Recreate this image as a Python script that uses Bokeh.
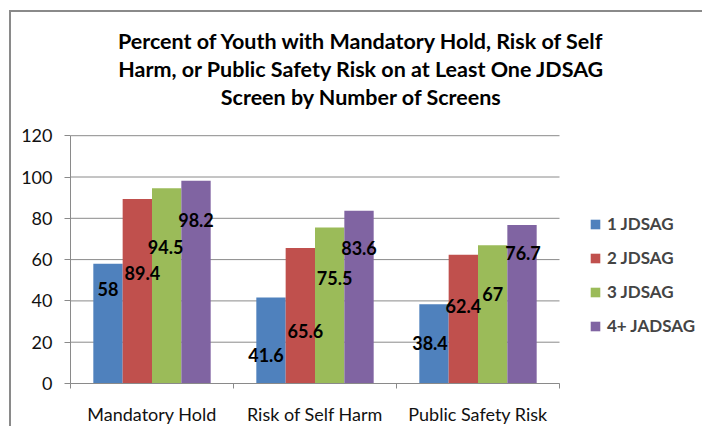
from bokeh.plotting import figure
from bokeh.models import (Range1d, FixedTicker, Legend, LegendItem, Label,
                          ColumnDataSource)
from bokeh.core.properties import value
from bokeh.embed import file_html
from bokeh.resources import INLINE

# ---- data ----
categories = ["Mandatory Hold", "Risk of Self Harm", "Public Safety Risk"]
series_names = ["1 JDSAG", "2 JDSAG", "3 JDSAG", "4+ JADSAG"]
values_1 = [58, 41.6, 38.4]
values_2 = [89.4, 65.6, 62.4]
values_3 = [94.5, 75.5, 67]
values_4 = [98.2, 83.6, 76.7]
y_ticks = [0, 20, 40, 60, 80, 100, 120]
title_lines = [
    "Percent of Youth with Mandatory Hold, Risk of Self",
    "Harm, or Public Safety Risk on at Least One JDSAG",
    "Screen by Number of Screens",
]

# ---- styling ----
colors = ["#4F81BD", "#C0504D", "#9BBB59", "#8064A2"]
offsets = [-0.27, -0.09, 0.09, 0.27]
bar_width = 0.18
# value-label anchors (data y) and horizontal nudges (px), per series
label_y = [[45.7, 13.6, 19.4], [53.4, 25.3, 37.4], [66, 51, 43.2], [79, 65.6, 63]]
label_dx = [[0, -5, -4], [5, 5, 0], [-1, 5, 0], [0, 0, 1]]
FONT = "Lato"
GRAY = "#8a8a8a"

# The canvas sits inside a bordered box; the plot frame fills everything
# right of the value axis and above the category axis, so the title and
# legend live inside it.  Axis data extent: x 0..3, y 0..120.
CANVAS_W, CANVAS_H = 693, 416
AXIS_W, AXIS_H = 59, 45
PX_PER_CAT = 163.0
PX_PER_UNIT = 2.065
x_end = (CANVAS_W - AXIS_W) / PX_PER_CAT
y_end = (CANVAS_H - AXIS_H) / PX_PER_UNIT
n_cat = len(categories)

p = figure(width=CANVAS_W, height=CANVAS_H, output_backend="svg",
           toolbar_location=None,
           x_range=Range1d(0, x_end), y_range=Range1d(0, y_end),
           min_border_left=AXIS_W, min_border_right=0,
           min_border_top=0, min_border_bottom=AXIS_H)
p.outline_line_color = None
p.background_fill_color = "white"
p.border_fill_color = "white"
p.styles = {"margin-left": "9px", "margin-top": "10px",
            "border-left": f"2px solid {GRAY}", "border-top": f"2px solid {GRAY}"}

# value axis
p.yaxis.ticker = FixedTicker(ticks=y_ticks)
p.yaxis.bounds = (y_ticks[0], y_ticks[-1])
p.yaxis.major_tick_out = 6
p.yaxis.major_tick_in = 0
p.yaxis.minor_tick_line_color = None
p.yaxis.major_label_standoff = 12
p.yaxis.axis_line_color = GRAY
p.yaxis.major_tick_line_color = GRAY
p.yaxis.major_label_text_font = FONT
p.yaxis.major_label_text_font_size = "18px"
p.yaxis.major_label_text_color = "#111111"
p.xgrid.grid_line_color = None
p.ygrid.grid_line_color = None

# horizontal gridlines across the category extent
p.segment(x0=[0] * len(y_ticks), x1=[n_cat] * len(y_ticks),
          y0=y_ticks, y1=y_ticks, line_color=GRAY, line_width=1)

# category axis: names centred, tick marks on category boundaries
centers = [i + 0.5 for i in range(n_cat)]
p.xaxis.ticker = FixedTicker(ticks=centers, minor_ticks=list(range(n_cat + 1)))
p.xaxis.bounds = (0, n_cat)
p.xaxis.major_label_overrides = {c: n for c, n in zip(centers, categories)}
p.xaxis.major_tick_out = 0
p.xaxis.major_tick_in = 0
p.xaxis.minor_tick_out = 5
p.xaxis.minor_tick_in = 0
p.xaxis.minor_tick_line_color = GRAY
p.xaxis.axis_line_color = GRAY
p.xaxis.major_label_standoff = 14
p.xaxis.major_label_text_font = FONT
p.xaxis.major_label_text_font_size = "18px"
p.xaxis.major_label_text_color = "#111111"

# bars
all_values = [values_1, values_2, values_3, values_4]
items = []
label_sources = []
for k, vals in enumerate(all_values):
    xs = [c + offsets[k] for c in centers]
    src = ColumnDataSource(dict(x=xs, top=vals))
    r = p.vbar(x="x", top="top", width=bar_width, bottom=0, source=src,
               fill_color=colors[k], line_color=None)
    items.append(LegendItem(label=series_names[k], renderers=[r]))
    label_sources.append(ColumnDataSource(dict(
        x=xs, y=label_y[k], t=[f"{v:g}" for v in vals], dx=label_dx[k])))

# value labels, drawn over all bars
for lsrc in label_sources:
    p.text(x="x", y="y", text="t", x_offset="dx", source=lsrc,
           text_align="center", text_baseline="middle",
           text_font=value(FONT), text_font_style="bold",
           text_font_size="18px", text_color="black")

legend = Legend(items=items, location=(519, 47),
                glyph_width=12, glyph_height=12, label_height=20,
                spacing=13, padding=0, margin=0, label_standoff=6,
                label_text_font=FONT, label_text_font_style="bold",
                label_text_font_size="17px", border_line_color=None,
                background_fill_alpha=0)
p.add_layout(legend, "center")

# title, three centred lines
def page_x(px):
    return (px - 70) / PX_PER_CAT
def page_y(py):
    return (383 - py) / PX_PER_UNIT

for i, line in enumerate(title_lines):
    p.add_layout(Label(x=page_x(361), y=page_y(40.5 + 28 * i), text=line,
                       text_align="center", text_baseline="middle",
                       text_font=FONT, text_font_style="bold",
                       text_font_size="21.5px", text_color="black"))

open("out.html", "w").write(file_html(p, INLINE))
